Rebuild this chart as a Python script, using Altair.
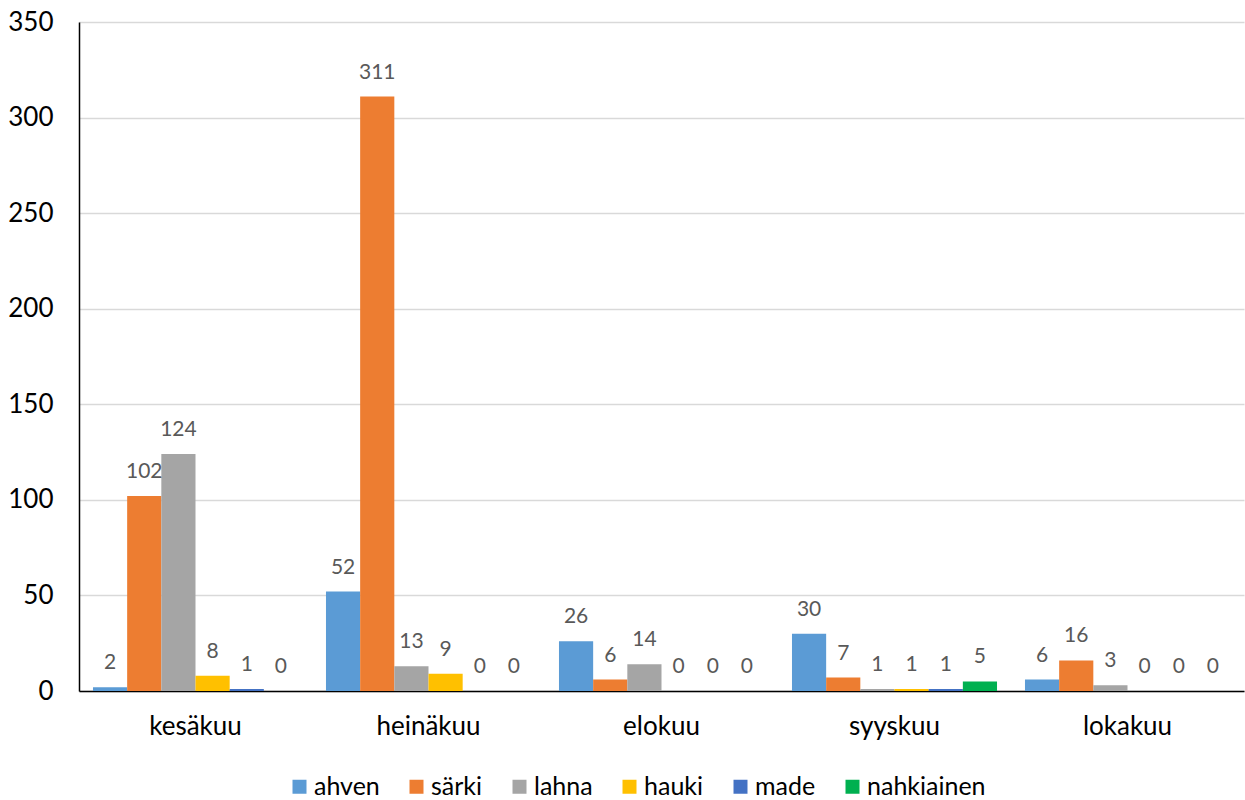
import altair as alt
import pandas as pd

months = ["kesäkuu", "heinäkuu", "elokuu", "syyskuu", "lokakuu"]
species = ["ahven", "särki", "lahna", "hauki", "made", "nahkiainen"]
colors = ["#5B9BD5", "#ED7D31", "#A5A5A5", "#FFC000", "#4472C4", "#00B050"]

ahven = [2, 52, 26, 30, 6]
sarki = [102, 311, 6, 7, 16]
lahna = [124, 13, 14, 1, 3]
hauki = [8, 9, 0, 1, 0]
made = [1, 0, 0, 1, 0]
nahkiainen = [0, 0, 0, 5, 0]

y_ticks = [0, 50, 100, 150, 200, 250, 300, 350]

series = [ahven, sarki, lahna, hauki, made, nahkiainen]
rows = []
for sp, vals in zip(species, series):
    for m, v in zip(months, vals):
        rows.append({"kuukausi": m, "laji": sp, "määrä": v})
df = pd.DataFrame(rows)

FONT = "Lato"

base = alt.Chart(df).encode(
    x=alt.X(
        "kuukausi:N",
        sort=months,
        scale=alt.Scale(paddingInner=0.12, paddingOuter=0.06),
        axis=alt.Axis(
            title=None,
            labelAngle=0,
            labelFontSize=26,
            labelFont=FONT,
            labelColor="#000000",
            labelPadding=22,
            ticks=False,
            tickSize=0,
            domainColor="#000000",
            domainWidth=1.5,
            grid=False,
        ),
    ),
    xOffset=alt.XOffset("laji:N", sort=species, scale=alt.Scale(domain=species, paddingInner=0, paddingOuter=0)),
)

bars = base.mark_bar().encode(
    y=alt.Y(
        "määrä:Q",
        scale=alt.Scale(domain=[0, 350], nice=False),
        axis=alt.Axis(
            title=None,
            values=y_ticks,
            labelFontSize=26,
            labelFont=FONT,
            labelColor="#000000",
            labelPadding=26,
            ticks=False,
            tickSize=0,
            domainColor="#000000",
            domainWidth=1.5,
            gridColor="#D9D9D9",
            gridWidth=1.5,
        ),
    ),
    color=alt.Color(
        "laji:N",
        sort=species,
        scale=alt.Scale(domain=species, range=colors),
        legend=alt.Legend(
            title=None,
            orient="none",
            direction="horizontal",
            columns=6,
            legendX=208,
            legendY=752,
            symbolType="square",
            symbolSize=196,
            symbolStrokeWidth=0,
            labelFont=FONT,
            labelFontSize=25,
            labelColor="#000000",
            labelOffset=2,
            columnPadding=24,
        ),
    ),
)

labels = base.mark_text(
    font=FONT, fontSize=21, color="#595959", baseline="alphabetic", dy=-18
).encode(
    y=alt.Y("määrä:Q"),
    text=alt.Text("määrä:Q"),
)

chart = (
    alt.layer(bars, labels)
    .properties(
        width=1165,
        height=669,
        autosize=alt.AutoSizeParams(type="none"),
        padding={"left": 79, "top": 22, "right": 1, "bottom": 109},
        background="#FFFFFF",
    )
    .configure_view(stroke=None)
)

chart.save("out.html", embed_options={"renderer": "svg", "actions": False})
